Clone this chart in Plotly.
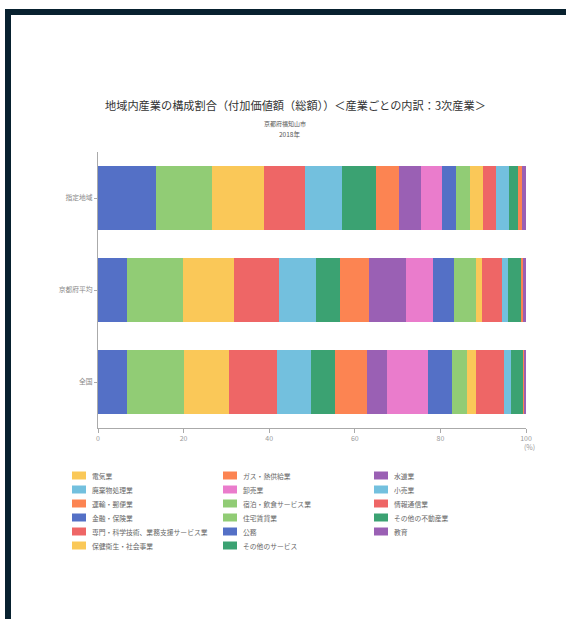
import plotly.graph_objects as go

# regions (top to bottom in the chart)
regions = ["指定地域", "京都府平均", "全国"]

# industries in stacking order (left to right)
industries = [
    "公務", "住宅賃貸業", "保健衛生・社会事業", "専門・科学技術、業務支援サービス業",
    "小売業", "その他のサービス", "運輸・郵便業", "教育", "卸売業", "金融・保険業",
    "宿泊・飲食サービス業", "電気業", "情報通信業", "廃棄物処理業", "その他の不動産業",
    "ガス・熱供給業", "水道業",
]

# share (%) per region, same order as industries
share_shitei = [13.6, 13.0, 12.2, 9.6, 8.5, 8.0, 5.5, 5.1, 4.8, 3.3, 3.3, 3.1, 3.1, 2.9, 2.1, 1.0, 0.9]
share_kyoto = [6.7, 13.2, 11.9, 10.6, 8.5, 5.6, 6.7, 8.7, 6.3, 5.0, 5.0, 1.6, 4.5, 1.4, 3.3, 0.2, 0.8]
share_zenkoku = [6.8, 13.3, 10.5, 11.2, 8.0, 5.6, 7.4, 4.7, 9.6, 5.6, 3.5, 2.0, 6.7, 1.5, 2.9, 0.2, 0.5]

# legend order (as in the original legend)
legend_order = [
    "電気業", "ガス・熱供給業", "水道業",
    "廃棄物処理業", "卸売業", "小売業",
    "運輸・郵便業", "宿泊・飲食サービス業", "情報通信業",
    "金融・保険業", "住宅賃貸業", "その他の不動産業",
    "専門・科学技術、業務支援サービス業", "公務", "教育",
    "保健衛生・社会事業", "その他のサービス",
]

x_ticks = [0, 20, 40, 60, 80, 100]

palette = ["#5470c6", "#91cc75", "#fac858", "#ee6666", "#73c0de",
           "#3ba272", "#fc8452", "#9a60b4", "#ea7ccc"]

FONT = "Noto Sans CJK JP"
W, H = 566, 619
ML, MR, MT, MB = 98, 40, 152, 191
PW, PH = W - ML - MR, H - MT - MB


def px(x):
    return (x - ML) / PW


def py(y):
    return (H - MB - y) / PH


fig = go.Figure()
for i, name in enumerate(industries):
    vals = [share_shitei[i], share_kyoto[i], share_zenkoku[i]]
    fig.add_trace(go.Bar(
        y=regions, x=vals, name=name, orientation="h",
        marker=dict(color=palette[i % len(palette)], line=dict(width=0)),
        showlegend=False,
    ))

shapes = []
annotations = []

# hand-built legend (3 columns, row-wise)
for k, name in enumerate(legend_order):
    col, row = k % 3, k // 3
    color = palette[industries.index(name) % len(palette)]
    x0 = 72 + col * 151
    yc = 475.5 + row * 14
    shapes.append(dict(type="rect", xref="paper", yref="paper",
                       x0=px(x0), x1=px(x0 + 14), y0=py(yc + 4), y1=py(yc - 4),
                       fillcolor=color, line=dict(width=0)))
    annotations.append(dict(text=name, xref="paper", yref="paper",
                            x=px(x0 + 17.5), y=py(yc), xanchor="left", yanchor="middle",
                            showarrow=False, font=dict(family=FONT, size=6.8, color="#666")))

# title block
annotations.append(dict(text="地域内産業の構成割合（付加価値額（総額））＜産業ごとの内訳：3次産業＞",
                        xref="paper", yref="paper", x=px(295), y=py(105),
                        xanchor="center", yanchor="middle", showarrow=False,
                        font=dict(family=FONT, size=11.2, color="#333")))
annotations.append(dict(text="京都府福知山市", xref="paper", yref="paper", x=px(285), y=py(123),
                        xanchor="center", yanchor="middle", showarrow=False,
                        font=dict(family=FONT, size=6, color="#555")))
annotations.append(dict(text="2018年", xref="paper", yref="paper", x=px(289), y=py(134),
                        xanchor="center", yanchor="middle", showarrow=False,
                        font=dict(family=FONT, size=6.5, color="#555")))
annotations.append(dict(text="(%)", xref="paper", yref="paper", x=px(529), y=py(447),
                        xanchor="center", yanchor="middle", showarrow=False,
                        font=dict(family=FONT, size=7, color="#999")))

# dark frame on top and left
frame = "#08212f"
shapes.append(dict(type="rect", xref="paper", yref="paper", layer="above",
                   x0=px(5), x1=px(W + 5), y0=py(15), y1=py(9),
                   fillcolor=frame, line=dict(width=0)))
shapes.append(dict(type="rect", xref="paper", yref="paper", layer="above",
                   x0=px(5), x1=px(11), y0=py(H + 5), y1=py(9),
                   fillcolor=frame, line=dict(width=0)))

fig.update_layout(
    width=W, height=H,
    margin=dict(l=ML, r=MR, t=MT, b=MB),
    barmode="stack", bargap=0.3,
    plot_bgcolor="white", paper_bgcolor="white",
    font=dict(family=FONT, color="#666"),
    xaxis=dict(range=[0, 100], tickvals=x_ticks, showgrid=False, zeroline=False,
               showline=True, linecolor="#aaa", linewidth=1,
               ticks="outside", ticklen=4, tickcolor="#aaa",
               tickfont=dict(size=7, color="#999")),
    yaxis=dict(categoryorder="array", categoryarray=regions[::-1],
               showgrid=False, zeroline=False,
               showline=True, linecolor="#aaa", linewidth=1,
               ticks="outside", ticklen=3, tickcolor="#aaa",
               tickfont=dict(size=6.8, color="#888")),
    shapes=shapes,
    annotations=annotations,
    showlegend=False,
)

# drop the default page margin so the figure sits at the window's corner
fig.write_html("out.html", config={"displayModeBar": False},
               post_script="document.body.style.margin='0';")
